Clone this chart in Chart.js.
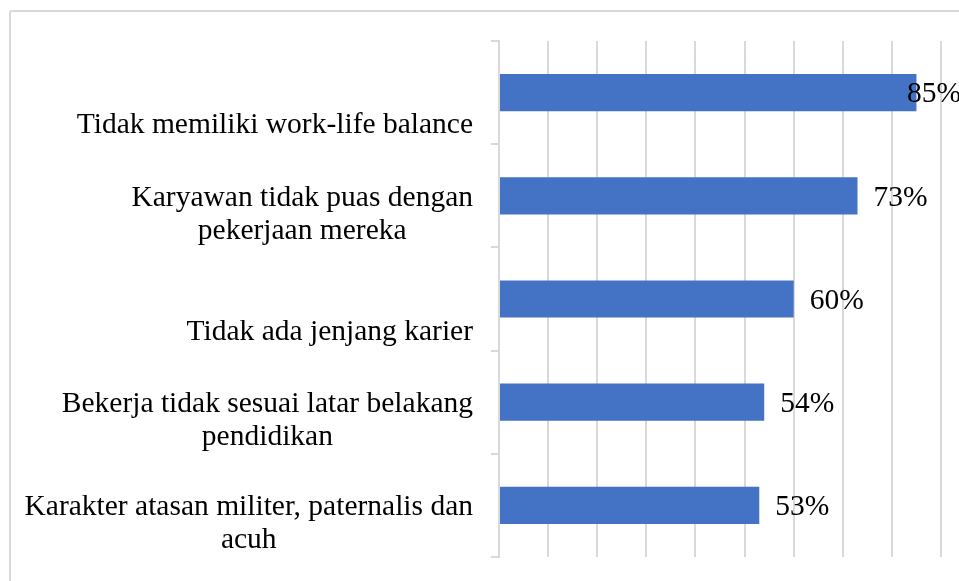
<!DOCTYPE html>
<html>
<head>
<meta charset="utf-8">
<script src="https://cdn.jsdelivr.net/npm/chart.js@4/dist/chart.umd.min.js"></script>
<style>
    html, body { margin: 0; padding: 0; background: #fff; overflow: hidden; }
    #wrap { position: relative; width: 959px; height: 581px; }
    #frame {
        position: absolute; left: 9px; top: 10px; width: 980px; height: 600px;
        border: 2px solid #d9d9d9; border-radius: 3px; box-sizing: border-box;
    }
    canvas { position: absolute; left: 0; top: 0; }
</style>
</head>
<body>
<div id="wrap">
    <div id="frame"></div>
    <canvas id="chart" width="959" height="581"></canvas>
</div>
<script>
    // categories (top to bottom) and their values in percent
    const categories = [
        ['Tidak memiliki work-life balance'],
        ['Karyawan tidak puas dengan', 'pekerjaan mereka'],
        ['Tidak ada jenjang karier'],
        ['Bekerja tidak sesuai latar belakang', 'pendidikan'],
        ['Karakter atasan militer, paternalis dan', 'acuh']
    ];
    const percentages = [85, 73, 60, 54, 53];
    const axisMax = 90;
    const axisStep = 10;

    const FONT = '29.5px "Liberation Serif", "Times New Roman", serif';
    const GRID = '#d9d9d9';

    // draws the category labels (right-aligned blocks, centred lines) and value labels
    const labelPlugin = {
        id: 'labels',
        afterDatasetsDraw(chart) {
            const ctx = chart.ctx;
            const yScale = chart.scales.y;
            const meta = chart.getDatasetMeta(0);
            ctx.save();
            ctx.font = FONT;
            ctx.fillStyle = '#000';
            ctx.textBaseline = 'middle';

            categories.forEach((lines, i) => {
                const yc = yScale.getPixelForValue(i);
                const w = Math.max(...lines.map(l => ctx.measureText(l).width));
                const cx = 473 - w / 2;
                ctx.textAlign = 'center';
                lines.forEach((line, k) => {
                    const y = lines.length === 1 ? yc + 33 : yc + 2 + 33 * k;
                    ctx.fillText(line, cx, y);
                });
            });

            ctx.textAlign = 'left';
            meta.data.forEach((bar, i) => {
                const txt = percentages[i] + '%';
                const w = ctx.measureText(txt).width;
                const x = Math.min(bar.x + 16, 961 - w);
                ctx.fillText(txt, x, bar.y + 2);
            });
            ctx.restore();
        }
    };

    new Chart(document.getElementById('chart'), {
        type: 'bar',
        data: {
            labels: categories.map(c => c.join(' ')),
            datasets: [{
                data: percentages,
                backgroundColor: '#4472c4',
                borderWidth: 0,
                barPercentage: 0.36,
                categoryPercentage: 1
            }]
        },
        options: {
            indexAxis: 'y',
            responsive: false,
            animation: false,
            layout: { padding: { top: 41, right: 18, bottom: 24, left: 0 } },
            plugins: {
                legend: { display: false },
                tooltip: { enabled: false }
            },
            scales: {
                x: {
                    min: 0,
                    max: axisMax,
                    ticks: { display: false, stepSize: axisStep },
                    grid: { color: GRID, lineWidth: 2, drawTicks: false },
                    border: { display: false },
                    afterFit(scale) { scale.height = 0; }
                },
                y: {
                    ticks: { display: false },
                    grid: { color: GRID, lineWidth: 2, drawOnChartArea: false, drawTicks: true, tickLength: 8 },
                    border: { color: GRID, width: 2 },
                    afterFit(scale) { scale.width = 499; }
                }
            }
        },
        plugins: [labelPlugin]
    });
</script>
</body>
</html>
